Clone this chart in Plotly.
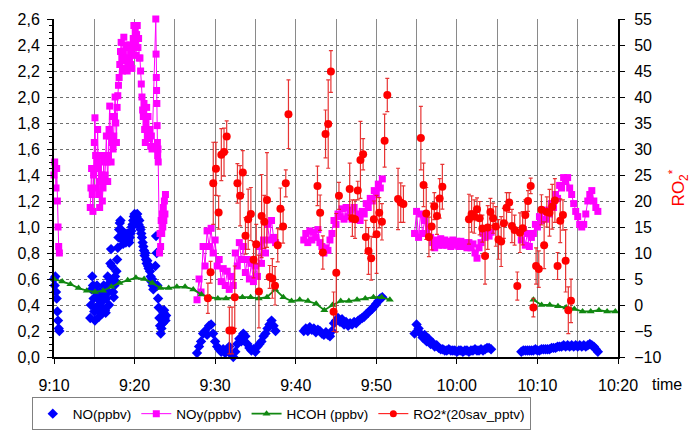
import plotly.graph_objects as go
from datetime import datetime, timedelta

DAY = "2024-01-01"

# ---- data: (start time, step in seconds, values) ; None = gap ----
NO_SEGMENTS = [
    ("09:10:00", 5, [0.60, 0.55, 0.62, 0.50, 0.45, 0.35, 0.28, 0.22, 0.20, None]),
    ("09:14:30", 5, [0.30, 0.40, 0.52, 0.62, 0.55, 0.45, 0.35, 0.28, 0.38, 0.50,
                     0.55, 0.45, 0.36, 0.31, 0.40, 0.50, 0.42, 0.33, 0.38, 0.48, 0.55, 0.45,
                     0.36, 0.34, 0.45, 0.55, 0.62, 0.50, 0.40,
                     0.60, 0.72, 0.83, 0.70, 0.58,
                     0.50, 0.46, 0.55, 0.62, 0.58,
                     0.66, 0.75, 0.84, 0.92, 0.98, 1.03, 1.05, 0.98,
                     0.93, 0.90, 0.87, 0.92, 0.95, 0.90, 0.88, 0.92, 0.95, 0.93, 0.90, 0.88,
                     0.92, 0.95, 0.97, 1.00,
                     1.02, 1.05, 1.08, 1.10, 1.07, 1.04, 1.08, 1.10, 1.06, 1.02, 1.05, 1.00,
                     0.98, 0.95, 0.92, 0.88, 0.85, 0.82, 0.78, 0.80, 0.75, 0.72, 0.74, 0.70,
                     0.68, 0.70, 0.66,
                     0.62, 0.58, 0.60, 0.55, 0.52, 0.56, 0.54,
                     0.70, 0.93, 0.80,
                     0.55, 0.45, 0.38, 0.30, 0.24, 0.18,
                     0.22, 0.30, 0.26, 0.34, 0.36, 0.30, 0.28, 0.32, None]),
    ("09:27:45", 15, [0.03, 0.08, 0.12, 0.18, 0.20, 0.17, 0.24, 0.25, 0.18, 0.12,
                      0.08, 0.06, 0.04, 0.06, 0.03, 0.05, 0.08, 0.02, 0.00, 0.04,
                      0.10, 0.14, 0.12, 0.18, 0.16, 0.10, 0.07, 0.05, 0.06, 0.04,
                      0.08, 0.10, 0.12, 0.16, 0.18, 0.22, 0.25, 0.28, 0.24, 0.20, None]),
    ("09:41:00", 15, [0.20, 0.22, 0.20, 0.23, 0.21, 0.22, 0.19, 0.21, 0.20, 0.18,
                      0.17, 0.19, 0.17, 0.16, 0.20, 0.26, 0.28, 0.30, 0.27, 0.29,
                      0.25, 0.27, 0.24, 0.26, 0.25, 0.27, 0.26, 0.28, 0.29, 0.30,
                      0.31, 0.33, 0.34, 0.36, 0.37, 0.39, 0.41, 0.43, 0.45, 0.46, None]),
    ("09:54:45", 15, [0.18, 0.25, 0.22, 0.18, 0.15, 0.17, 0.12, 0.14, 0.10, 0.11,
                      0.08, 0.09, 0.07, 0.06, 0.06, 0.05, 0.05, 0.06, 0.05, 0.05,
                      0.05, 0.04, 0.05, 0.05, 0.04, 0.05, 0.05, 0.04, 0.05, 0.05,
                      0.06, 0.05, 0.05, 0.06, 0.05, 0.06, 0.07, 0.07, 0.06, None]),
    ("10:08:00", 15, [0.04, 0.05, 0.05, 0.05, 0.05, 0.05, 0.05, 0.06, 0.05, 0.05,
                      0.06, 0.06, 0.06, 0.06, 0.06, 0.07, 0.07, 0.07, 0.08, 0.08,
                      0.08, 0.09, 0.08, 0.09, 0.08, 0.09, 0.08, 0.09, 0.08, 0.09,
                      0.08, 0.09, 0.08, 0.09, 0.10, 0.09, 0.08, 0.06, 0.04]),
]

NOY_SEGMENTS = [
    ("09:10:00", 5, [1.40, 1.50, 1.45, 1.30, 1.45, 1.20, 1.00, 0.85, 0.80, None]),
    ("09:14:30", 5, [1.15, 1.30, 1.45, 1.25, 1.12,
                     1.40, 1.65, 1.84, 1.55,
                     1.30, 1.50, 1.75, 1.45,
                     1.25, 1.15, 1.35, 1.55, 1.40, 1.20, 1.30, 1.50, 1.35,
                     1.40, 1.55, 1.70, 1.50, 1.35,
                     1.55, 1.75, 1.93, 1.70, 1.50, 1.65, 1.85, 1.60,
                     1.70, 1.85, 2.00, 1.80, 1.65,
                     1.92, 2.01, 2.09, 2.15, 2.25, 2.35,
                     2.42, 2.30, 2.20, 2.35, 2.46, 2.28, 2.22, 2.40, 2.30, 2.20, 2.38, 2.25,
                     2.30, 2.40, 2.25, 2.35, 2.22, 2.38,
                     2.45, 2.55, 2.40, 2.50, 2.32, 2.48, 2.55, 2.38, 2.45, 2.30,
                     2.30, 2.20, 2.10, 2.00, 1.90,
                     1.85, 1.95, 1.75, 1.65, 1.80, 1.92, 1.70, 1.85, 1.75, 1.68,
                     1.75, 1.62, 1.70, 1.60]),
    ("09:22:38", 2, [2.60, 2.33, 2.15, 2.05, 1.95, 1.78, 1.65, 1.55, 1.60, 1.50]),
    ("09:23:06", 4, [0.80, 0.95, 0.85, 1.05, 0.95, 1.10, 1.00, 1.15, 1.05, 1.20,
                     1.10, 1.25, None]),
    ("09:27:45", 15, [0.44, 0.60, 0.50, 0.85, 0.70, 0.97, 0.85, 0.99, 0.80, 0.90,
                      0.70, 0.75, 0.58, 0.68, 0.55, 0.66, 0.52, 0.62, 0.55, 0.80,
                      0.70, 0.88, 0.75, 0.85, 0.65, 0.75, 0.60, 0.72, 0.58, 0.70,
                      0.62, 0.85, 0.72, 0.90, 0.80, 1.02, 0.90, 1.05, 0.92, 0.88, None]),
    ("09:41:00", 15, [0.90, 0.95, 0.88, 0.97, 0.90, 0.96, 0.92, 0.98, 0.88, 0.85,
                      0.80, 0.84, 0.82, 0.90, 0.95, 1.05, 1.02, 1.10, 1.08, 1.14,
                      1.06, 1.15, 1.08, 1.13, 1.06, 1.15, 1.06, 1.10, 1.05, 1.12,
                      1.10, 1.18, 1.15, 1.22, 1.20, 1.28, 1.25, 1.33, 1.30, 1.37, None]),
    ("09:54:45", 15, [0.95, 1.12, 0.92, 1.10, 0.95, 1.05, 0.95, 1.00, 0.92, 0.88,
                      0.84, 0.90, 0.86, 0.91, 0.86, 0.90, 0.86, 0.89, 0.85, 0.90,
                      0.86, 0.89, 0.85, 0.89, 0.85, 0.88, 0.84, 0.88, 0.84, 0.87,
                      0.80, 0.76, 0.84, 0.88, 0.95, 0.92, 0.98, 0.93, 0.96, None]),
    ("10:08:00", 15, [0.90, 0.98, 0.86, 0.95, 0.85, 0.92, 0.95, 1.02, 1.00, 1.08,
                      1.05, 1.12, 1.06, 1.13, 1.10, 1.18, 1.15, 1.25, 1.22, 1.32,
                      1.30, 1.38, 1.35, 1.38, 1.30, 1.25, 1.18, 1.12, 1.08, 1.02,
                      1.00, 1.02, 1.10, 1.20, 1.25, 1.28, 1.20, 1.15, 1.12]),
]

HCOH_SEGMENTS = [
    ("09:10:00", 61, [0.60, 0.58, 0.56, 0.53, 0.51, 0.50, 0.51, 0.54, 0.57, 0.59,
                      0.61, 0.60, 0.57, 0.53, 0.53, 0.54, 0.54, 0.52, 0.48, 0.46,
                      0.45, 0.45, 0.46, 0.46, 0.46, 0.45, 0.46, 0.52, 0.46, 0.43,
                      0.44, 0.43, 0.41, 0.36, 0.40, 0.43, 0.43, 0.44, 0.45, 0.46,
                      0.46, 0.44, None]),
    ("10:09:30", 61, [0.44, 0.40, 0.40, 0.39, 0.38, 0.37, 0.35, 0.35, 0.36, 0.35, 0.35]),
]

RO2_SEGMENTS = [
    ("09:29:06", 20, [1.3, 6.3, 23.4, 26.2, 17.8, 28.9, 29.4, 32.4, -4.9, -4.9,
                      1.5, 23.4, 21.0, 25.5, 13.3, 16.5, 17.5, 8.7, 11.7, 2.6,
                      17.1, 16.0, 20.2, 5.4, 5.1, 3.7, 11.5, 18.5, 15.1, 23.4, 36.7]),
    ("09:42:42", 20, [22.9, 17.75, 10.1, 32.9, 34.8, 44.9, -1.3, 6.2, 21.0, None,
                      None, None, 22.3, 16.7, 16.5, 22.0, 27.9, 29.0, 13.1, 10.4,
                      9.0, 16.5, 13.6, 17.75, 16.0, 31.6, 40.4, None, None, None,
                      20.4, 19.7, 19.4]),
    ("09:55:32", 20, [32.1, 23.1, 17.6, 13.1, 15.1, 19.0, 17.1, 20.5, 22.75]),
    ("10:01:30", 20, [16.5, 17.5, 17.0, 18.4, 16.7, 14.7, 9.4, 14.9, 17.9, 16.7,
                      15.1, 12.6, 12.2, 15.7, 18.7, 19.7, 15.2, 14.4, 3.65, 13.9,
                      14.75, 17.3, 20.0, 22.9, -0.5, 7.5, 6.9, 18.3, 11.5, 17.9,
                      17.75, 18.9, 20.1, 7.5, 16.2, 17.3, 8.5, -1.0, 0.8]),
]

RO2_ERRORS = [
    [2.9, 2.1, 7.9, 5.1, 3.2, 5.0, 4.6, 3.0, 4.5, 4.5,
     6.0, 3.8, 5.8, 4.2, 3.5, 5.8, 5.1, 3.5, 3.8, 7.0,
     8.0, 5.1, 9.1, 2.2, 3.8, 3.7, 3.2, 4.0, 3.2, 2.6, 6.6],
    [3.8, 3.4, 3.2, 4.6, 8.5, 4.0, 3.8, 11.4, 2.6, None,
     None, None, 5.0, 3.5, 3.7, 1.8, 7.4, 3.0, 3.2, 4.5,
     4.2, 3.5, 7.5, 2.9, 3.5, 5.1, 3.2, None, None, None,
     5.9, 3.8, 3.5],
    [6.1, 4.2, 5.0, 3.8, 4.5, 2.6, 3.5, 3.8, 4.3],
    [4.8, 3.5, 3.2, 2.2, 3.2, 2.6, 5.4, 4.2, 2.6, 2.9,
     3.8, 3.8, 4.8, 2.9, 2.9, 1.9, 3.2, 2.9, 2.7, 3.8,
     3.2, 2.9, 2.0, 1.5, 1.8, 3.5, 3.5, 2.9, 4.5, 2.9,
     4.5, 4.3, 4.2, 2.6, 4.2, 2.9, 6.0, 4.5, 4.2],
]

X_TICK_START = "09:10:00"
X_TICK_END = "10:20:00"


def expand(segments):
    xs, ys = [], []
    for start, step, vals in segments:
        t0 = datetime.strptime(f"{DAY} {start}", "%Y-%m-%d %H:%M:%S")
        for i, v in enumerate(vals):
            xs.append(t0 + timedelta(seconds=step * i))
            ys.append(v)
    return xs, ys


no_x, no_y = expand(NO_SEGMENTS)
noy_x, noy_y = expand(NOY_SEGMENTS)
hc_x, hc_y = expand(HCOH_SEGMENTS)
ro_x, ro_y = expand(RO2_SEGMENTS)
ro_err = [e for seg in RO2_ERRORS for e in seg]

BLUE = "#0000FF"
MAGENTA = "#FF00FF"
GREEN = "#118811"
RED = "#FF0000"

fig = go.Figure()
fig.add_trace(go.Scatter(x=no_x, y=no_y, mode="markers", name="NO(ppbv)",
                         marker=dict(symbol="diamond", size=8, color=BLUE),
                         cliponaxis=False))
fig.add_trace(go.Scatter(x=noy_x, y=noy_y, mode="lines+markers", name="NOy(ppbv)",
                         line=dict(color=MAGENTA, width=1),
                         marker=dict(symbol="square", size=7, color=MAGENTA),
                         cliponaxis=False))
fig.add_trace(go.Scatter(x=hc_x, y=hc_y, mode="lines+markers", name="HCOH (ppbv)",
                         line=dict(color=GREEN, width=1.8),
                         marker=dict(symbol="triangle-up", size=7, color=GREEN),
                         cliponaxis=False))
fig.add_trace(go.Scatter(x=ro_x, y=ro_y, mode="markers", name="RO2*(20sav_pptv)",
                         yaxis="y2", showlegend=False,
                         marker=dict(symbol="circle", size=8, color=RED),
                         error_y=dict(type="data", array=ro_err, visible=True,
                                      color="rgba(230,30,30,0.9)", thickness=1.2, width=2),
                         cliponaxis=False))
fig.add_trace(go.Scatter(x=[None], y=[None], mode="lines+markers", name="RO2*(20sav_pptv)",
                         yaxis="y2", line=dict(color=RED, width=1),
                         marker=dict(symbol="circle", size=7, color=RED)))

GRID_V = "#8a8a8a"
GRID_H = "#707070"
fig.update_layout(
    width=691, height=431,
    margin=dict(l=54, r=73, t=19, b=74),
    paper_bgcolor="white", plot_bgcolor="white",
    separators=", ",
    font=dict(family="Liberation Sans, Arial, sans-serif", size=16, color="black"),
    legend=dict(orientation="h", xref="container", yref="container",
                x=0.046, xanchor="left", y=0.078, yanchor="top",
                bordercolor="#808080", borderwidth=1, bgcolor="white",
                font=dict(size=13.5), itemwidth=30, tracegroupgap=0),
    xaxis=dict(type="date", automargin=False,
               range=[f"{DAY} {X_TICK_START}", f"{DAY} {X_TICK_END}"],
               tick0=f"{DAY} {X_TICK_START}", dtick=600000, tickformat="%-H:%M",
               showgrid=True, gridcolor=GRID_V, gridwidth=1,
               minor=dict(dtick=300000, showgrid=True, gridcolor=GRID_V, gridwidth=1, ticks=""),
               showline=True, linecolor="black", linewidth=2,
               ticks="outside", ticklen=5, tickcolor="black", ticklabelstandoff=8,
               zeroline=False),
    yaxis=dict(range=[0, 2.6], dtick=0.2, tickformat=".1f", automargin=False,
               showgrid=True, gridcolor=GRID_H, griddash="dot", gridwidth=1,
               showline=True, linecolor="black", linewidth=2,
               ticks="outside", ticklen=5, tickcolor="black", ticklabelstandoff=4,
               minor=dict(dtick=0.05, ticks="outside", ticklen=3, tickcolor="black", showgrid=False),
               zeroline=False),
    yaxis2=dict(overlaying="y", side="right", range=[-10, 55], dtick=5, automargin=False,
                showgrid=False, showline=True, linecolor="black", linewidth=2,
                ticks="outside", ticklen=5, tickcolor="black", ticklabelstandoff=6,
                zeroline=False,
                title=dict(text="RO<sub>2</sub><sup>*</sup>", font=dict(color=RED, size=17),
                           standoff=24)),
    annotations=[dict(text="time", xref="paper", yref="paper", x=1.057, y=-0.08,
                      xanchor="left", yanchor="middle", showarrow=False,
                      font=dict(size=16))],
)

fig.write_html("out.html")
